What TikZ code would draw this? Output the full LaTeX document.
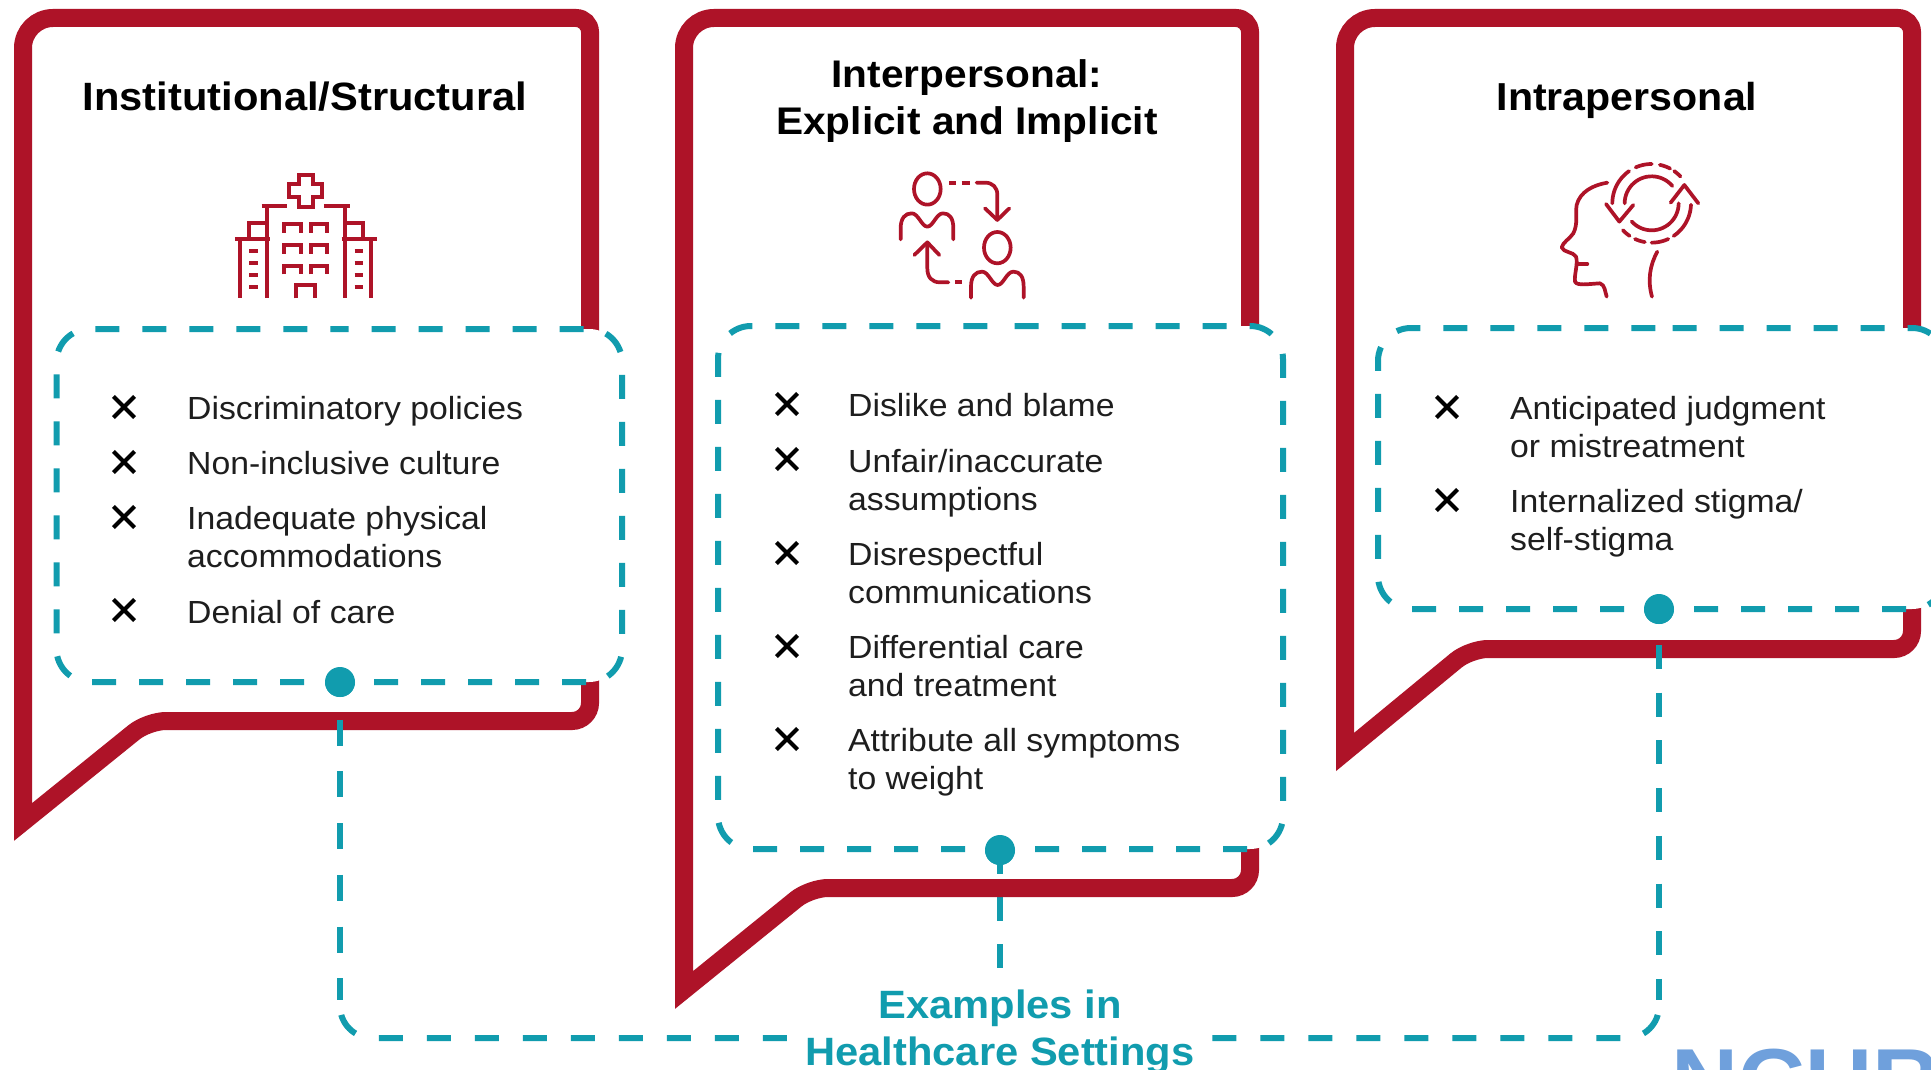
\documentclass[tikz,border=0pt]{standalone}
\usepackage{fontspec}
\setmainfont[FakeStretch=1.055]{Liberation Sans}
\usetikzlibrary{shapes.misc}
\definecolor{bred}{HTML}{AE1328}
\definecolor{bteal}{HTML}{119CAE}
\definecolor{blogo}{HTML}{6FA0DC}
\definecolor{btext}{HTML}{1E1E1E}
\tikzset{
 bubble/.style={draw=bred,line width=18pt,line join=miter,miter limit=20},
 dashedge/.style={draw=bteal,line width=6pt,dash pattern=on 24pt off 23pt,dash phase=12pt,rounded corners=33pt},
 boxfill/.style={fill=white,rounded corners=33pt},
 linkv/.style={draw=bteal,line width=6pt},
 linkh/.style={draw=bteal,line width=6pt,dash pattern=on 24pt off 24pt,dash phase=33pt,rounded corners=32pt},
 dot/.style={circle,fill=bteal,minimum size=30pt,inner sep=0pt},
 heading/.style={font=\fontsize{39.5}{47}\selectfont\bfseries,text=black,align=center,inner sep=0pt,yshift=-5.5pt},
 item/.style={font=\fontsize{32}{38}\selectfont,text=btext,align=left,anchor=west,inner sep=0pt,yshift=-3.7pt},
 xmark/.style={cross out,draw=black,line width=4.2pt,minimum size=17pt,inner sep=0pt},
 ico/.style={draw=bred,line width=3.7pt,line cap=round,line join=round,fill=none},
 examples/.style={font=\fontsize{39.5}{47}\selectfont\bfseries,text=bteal,align=center,fill=white,inner xsep=6pt,inner ysep=0pt,yshift=-6pt},
}
\begin{document}
\begin{tikzpicture}[x=1pt,y=-1pt]
\useasboundingbox (0,0) rectangle (1931,1070);
\fill[white] (0,0) rectangle (1931,1070);
\clip (0,0) rectangle (1931,1070);
% logo fragment
\node[anchor=north west,inner sep=0pt,text=blogo,font=\fontsize{88}{88}\selectfont\bfseries] (logo) at (1671,1049) {NCUR};
% link from the middle box runs under its bubble
\node[dot] (d2) at (1000,850) {};
\coordinate (mb) at (1000,969);
\draw[linkv,dash pattern=on 24pt off 23pt] (d2.center) -- (mb);
% bubbles
\draw[bubble] (590,340) [rounded corners=14pt] -- (590,18) [rounded corners=30pt] -- (23,18) [sharp corners] -- (23,822) [rounded corners=18pt] -- (148,721) -- (590,721) [rounded corners=14pt] -- (590,670);
\draw[bubble] (1250,340) [rounded corners=14pt] -- (1250,18) [rounded corners=30pt] -- (684,18) [sharp corners] -- (684,990) [rounded corners=18pt] -- (810,888) -- (1250,888) [rounded corners=14pt] -- (1250,840);
\draw[bubble] (1912,340) [rounded corners=14pt] -- (1912,18) [rounded corners=30pt] -- (1345,18) [sharp corners] -- (1345,752) [rounded corners=18pt] -- (1470,649) -- (1912,649) [rounded corners=14pt] -- (1912,600);
% connector
\coordinate (lv) at (340,1000);
\coordinate (rv) at (1659,1000);
\coordinate (lb) at (340,1038);
\coordinate (rb) at (1659,1038);
\coordinate (lm) at (800,1038);
\coordinate (rm) at (1199,1038);
\node[dot] (d1) at (340,682) {};
\node[dot] (d3) at (1659,609) {};
\draw[linkv,dash pattern=on 26pt off 25.7pt,dash phase=14pt] (d1.center) -- (lv);
\draw[linkh] (lv) -- (lb) -- (lm);
\draw[linkv,dash pattern=on 24pt off 23.7pt,dash phase=11.7pt] (d3.center) -- (rv);
\draw[linkh] (rv) -- (rb) -- (rm);
\node[examples] (ex) at (1000,1027) {\strut Examples in\\\strut Healthcare Settings};
% dashed boxes
\fill[boxfill] (56.5,329) rectangle (622,682);
\draw[dashedge] (339,682) -- (56.5,682) -- (56.5,329) -- (339,329);
\draw[dashedge] (339,682) -- (622,682) -- (622,329) -- (339,329);
\fill[boxfill] (718,326) rectangle (1283,849);
\draw[dashedge] (1000,849) -- (718,849) -- (718,326) -- (1000,326);
\draw[dashedge] (1000,849) -- (1283,849) -- (1283,326) -- (1000,326);
\fill[boxfill] (1378,328) rectangle (1945,609);
\draw[dashedge] (1659,609) -- (1378,609) -- (1378,328) -- (1659,328);
\draw[dashedge] (1659,609) -- (1945,609) -- (1945,328) -- (1659,328);
\node[dot] at (d1) {};
\node[dot] at (d2) {};
\node[dot] at (d3) {};
% headings
\node[heading] (h1) at (305,96) {\strut Institutional/Structural};
\node[heading,font=\fontsize{38.5}{47}\selectfont\bfseries] (h2) at (967,96) {\strut Interpersonal:\\\strut Explicit and Implicit};
\node[heading,font=\fontsize{39}{47}\selectfont\bfseries] (h3) at (1627,96) {\strut Intrapersonal};
% items 1
\node[xmark] (x11) at (124,407) {};
\node[item] (t11) at (187,408) {\strut Discriminatory policies};
\node[xmark] (x12) at (124,462) {};
\node[item] (t12) at (187,463) {\strut Non-inclusive culture};
\node[xmark] (x13) at (124,517) {};
\node[item] (t13) at (187,537) {\strut Inadequate physical\\\strut accommodations};
\node[xmark] (x14) at (124,610) {};
\node[item] (t14) at (187,612) {\strut Denial of care};
% items 2
\node[xmark] (x21) at (787,404) {};
\node[item] (t21) at (848,405) {\strut Dislike and blame};
\node[xmark] (x22) at (787,459) {};
\node[item] (t22) at (848,480) {\strut Unfair/inaccurate\\\strut assumptions};
\node[xmark] (x23) at (787,553) {};
\node[item] (t23) at (848,573) {\strut Disrespectful\\\strut communications};
\node[xmark] (x24) at (787,646) {};
\node[item] (t24) at (848,666.5) {\strut Differential care\\\strut and treatment};
\node[xmark] (x25) at (787,739) {};
\node[item] (t25) at (848,759) {\strut Attribute all symptoms\\\strut to weight};
% items 3
\node[xmark] (x31) at (1447,407) {};
\node[item] (t31) at (1510,427) {\strut Anticipated judgment\\\strut or mistreatment};
\node[xmark] (x32) at (1447,500) {};
\node[item] (t32) at (1510,520) {\strut Internalized stigma/\\\strut self-stigma};
% hospital icon
\begin{scope}[shift={(200,150)},x=0.3333pt,y=-0.3333pt]
\draw[ico,line cap=butt,line join=miter] (297,75)--(338,75)--(338,103)--(365,103)--(365,142)--(338,142)--(338,170)--(297,170)--(297,142)--(268,142)--(268,103)--(297,103)--cycle;
\draw[ico,line cap=butt] (185,168)--(262,168) (372,168)--(450,168);
\draw[ico,line cap=butt] (200,168)--(200,445) (434,168)--(434,445);
\draw[ico,line cap=butt] (105,266)--(210,266) (425,266)--(530,266);
\draw[ico,line cap=butt,line join=miter] (146,266)--(146,220)--(200,220) (490,266)--(490,220)--(434,220);
\draw[ico,line cap=butt] (120,266)--(120,445) (514,266)--(514,445);
\foreach \yy in {302,338,375,410}{\draw[ico,line cap=butt] (148,\yy)--(174,\yy) (464,\yy)--(490,\yy);}
\foreach \yy in {222,285,347}{\draw[ico,line cap=butt,line join=miter] (253,\yy+26)--(253,\yy)--(302,\yy)--(302,\yy+26) (333,\yy+26)--(333,\yy)--(382,\yy)--(382,\yy+26);}
\draw[ico,line cap=butt,line join=miter] (288,445)--(288,406)--(346,406)--(346,445);
\end{scope}
% people icon
\begin{scope}[shift={(870,150)},x=0.3333pt,y=-0.3333pt]
\draw[ico] (172,117) ellipse [x radius=40,y radius=47];
\draw[ico] (382,293) ellipse [x radius=40,y radius=47];
\draw[ico] (92,268)--(92,235) .. controls (92,205) and (105,190) .. (125,190) .. controls (145,190) and (155,230) .. (172,230) .. controls (189,230) and (199,190) .. (219,190) .. controls (239,190) and (250,205) .. (250,235) -- (250,268);
\draw[ico] (303,443)--(303,410) .. controls (303,380) and (316,365) .. (336,365) .. controls (356,365) and (366,405) .. (383,405) .. controls (400,405) and (410,365) .. (430,365) .. controls (450,365) and (461,380) .. (461,410) -- (461,443);
\draw[ico,line cap=butt] (238,98)--(258,98) (275,98)--(300,98);
\draw[ico] (320,98)--(345,98) .. controls (368,98) and (382,112) .. (382,135) -- (382,210);
\draw[ico] (345,175)--(382,210)--(418,175);
\draw[ico] (172,280)--(172,355) .. controls (172,382) and (186,397) .. (210,397) -- (235,397);
\draw[ico,line cap=butt] (255,397)--(277,397);
\draw[ico] (133,315)--(172,277)--(208,315);
\end{scope}
% head icon
\begin{scope}[shift={(1530,140)},x=0.3333pt,y=-0.3333pt]
\draw[ico] (232,128) .. controls (190,135) and (150,155) .. (140,195) .. controls (135,225) and (145,250) .. (130,280) .. controls (118,298) and (100,305) .. (95,322) .. controls (100,338) and (130,335) .. (138,350) .. controls (145,370) and (132,405) .. (135,425) .. controls (140,438) and (175,432) .. (210,430) .. controls (225,435) and (225,455) .. (230,470);
\draw[ico] (142,372)--(172,372);
\draw[ico] (382,335) .. controls (360,375) and (352,420) .. (366,470);
\def\cx{365}\def\cy{190}
\foreach \rr/\aa/\bb in {81/180/320,81/0/138,118/180/235,118/246/270,118/282/298,118/305/317,118/2/56,118/65/90,118/100/115,118/124/137}{
 \draw[ico] plot[smooth,domain=\aa:\bb,samples=24] ({\cx+\rr*cos(\x)},{\cy+\rr*sin(\x)});
}
\draw[ico] (228,192)--(268,245)--(310,195);
\draw[ico] (422,188)--(463,135)--(505,190);
\end{scope}
\end{tikzpicture}
\end{document}
